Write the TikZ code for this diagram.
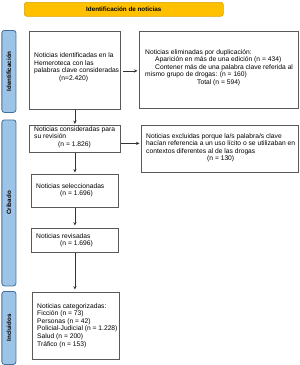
\documentclass[tikz,border=0pt]{standalone}
\usepackage{fontspec}
\setmainfont{Liberation Sans}
\usetikzlibrary{arrows.meta}
\definecolor{bannerfill}{HTML}{FFC000}
\definecolor{bannerdraw}{HTML}{D9A300}
\definecolor{sidefill}{HTML}{9DC3E6}
\definecolor{sidedraw}{HTML}{41719C}
\definecolor{boxdraw}{HTML}{595959}
\definecolor{arrcol}{HTML}{333333}
\tikzset{
  box/.style={draw=boxdraw, line width=0.8pt, anchor=north west, inner sep=0pt},
  side/.style={draw=sidedraw, fill=sidefill, line width=0.8pt, rounded corners=2.5pt, anchor=north west, inner sep=0pt, minimum width=14pt},
  sidetxt/.style={rotate=90, font=\fontsize{6.2}{7}\selectfont\bfseries, inner sep=0pt},
  txt/.style={anchor=north west, align=left, inner sep=0pt, font=\fontsize{6.7}{7.6}\selectfont},
  arr/.style={draw=arrcol, line width=0.7pt, -{Stealth[length=3.5pt,width=3.2pt]}},
}
\begin{document}
\begin{tikzpicture}[x=1pt,y=-1pt]
\useasboundingbox (0,0) rectangle (300,365);
% banner
\node[draw=bannerdraw, fill=bannerfill, line width=0.6pt, rounded corners=2.5pt, anchor=north west, minimum width=199pt, minimum height=14pt, inner sep=0pt] (ban) at (24,2) {};
\node[inner sep=0pt, font=\fontsize{6.3}{7}\selectfont\bfseries] (bant) at (ban.center) {Identificación de noticias};
% side labels
\node[side, minimum height=82pt] (s1) at (1.5,30) {};
\node[sidetxt] (s1t) at (s1.center) {Identificación};
\node[side, minimum height=166pt] (s2) at (1.5,119.5) {};
\node[sidetxt] (s2t) at (s2.center) {Cribado};
\node[side, minimum height=73pt] (s3) at (1.5,291) {};
\node[sidetxt] (s3t) at (s3.center) {Incluidos};
% boxes
\node[box, minimum width=91pt, minimum height=78pt] (A) at (29,31) {};
\node[txt] (At) at (34,52.5) {Noticias identificadas en la\\Hemeroteca con las\\palabras clave consideradas\\\hspace*{25pt}(n=2.420)};
\node[box, minimum width=159pt, minimum height=77pt] (B) at (139,31) {};
\node[txt] (Bt) at (145,49) {Noticias eliminadas por duplicación:\\\hspace*{10pt}Aparición en más de una edición (n = 434)\\\hspace*{10pt}Contener más de una palabra clave referida al\\mismo grupo de drogas: (n = 160)\\\hspace*{52pt}Total (n = 594)};
\node[box, minimum width=91pt, minimum height=27pt] (C) at (29,125) {};
\node[txt] (Ct) at (34,126) {Noticias consideradas para\\su revisión\\\hspace*{24pt}(n = 1.826)};
\node[box, minimum width=157pt, minimum height=47pt] (D) at (141,125) {};
\node[txt] (Dt) at (146,133) {Noticias excluidas porque la/s palabra/s clave\\hacían referencia a un uso lícito o se utilizaban en\\contextos diferentes al de las drogas\\\hspace*{61pt}(n = 130)};
\node[box, minimum width=87pt, minimum height=33pt] (E) at (31,174) {};
\node[txt] (Et) at (36,183) {Noticias seleccionadas\\\hspace*{24pt}(n = 1.696)};
\node[box, minimum width=87pt, minimum height=24pt] (F) at (31,228) {};
\node[txt] (Ft) at (36,233) {Noticias revisadas\\\hspace*{24pt}(n = 1.696)};
\node[box, minimum width=87pt, minimum height=67pt] (G) at (32,292) {};
\node[txt] (Gt) at (37,303) {Noticias categorizadas:\\Ficción (n = 73)\\Personas (n = 42)\\Policial-Judicial (n = 1.228)\\Salud (n = 200)\\Tráfico (n = 153)};
% arrows
\draw[arr, shorten <=2pt, shorten >=1.5pt] ([yshift=-0.5pt]A.east) -- ([yshift=-0.5pt]A.east -| B.west);
\draw[arr, shorten >=1pt] (A.south) -- (C.north);
\draw[arr, shorten >=1.5pt] ([yshift=-4.5pt]C.east) -- ([yshift=-4.5pt]C.east -| D.west);
\draw[arr, shorten >=1.5pt] (C.south) -- (C.south |- E.north);
\draw[arr, shorten >=2.5pt] (E.south) -- (E.south |- F.north);
\draw[arr, shorten >=2.5pt] (F.south) -- (F.south |- G.north);
\end{tikzpicture}
\end{document}
